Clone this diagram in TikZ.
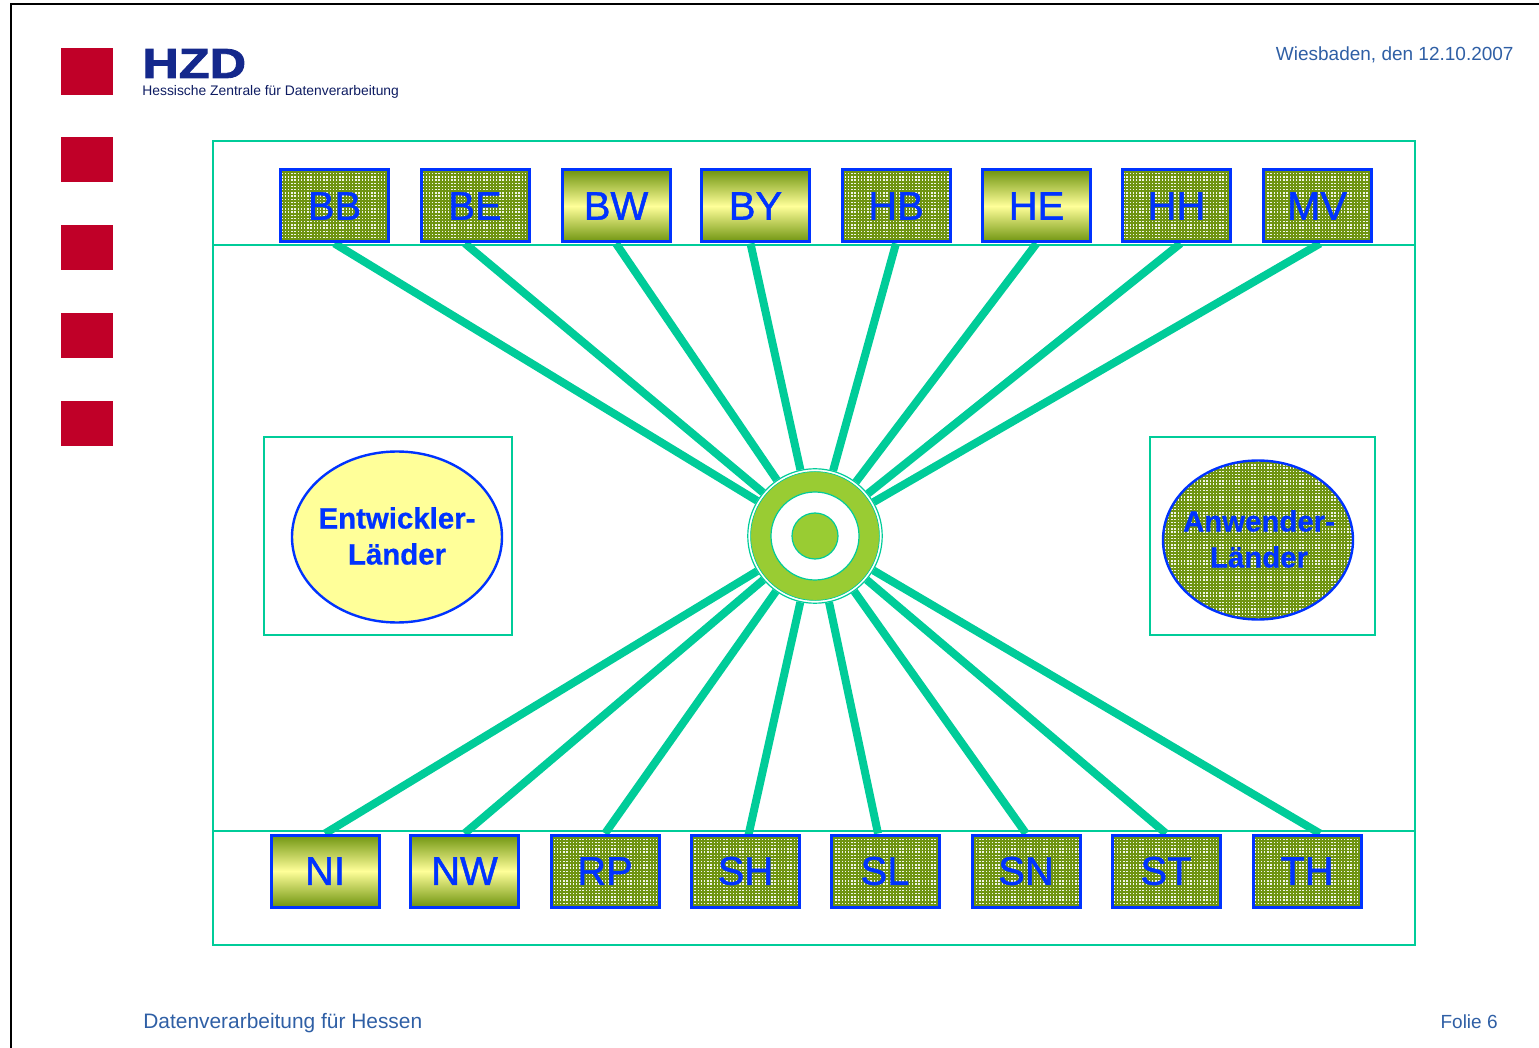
\documentclass[tikz,border=0pt]{standalone}
\usepackage{fontspec}
\setmainfont{Liberation Sans}
\newfontfamily\heavyfont[FakeBold=2]{Liberation Sans Bold}
\newfontfamily\midfont[FakeBold=0.6]{Liberation Sans Bold}
\newfontfamily\boxfont[FakeBold=1.2]{Liberation Sans}
\usetikzlibrary{patterns,backgrounds,shapes.geometric}
\definecolor{teal1}{HTML}{00CC99}
\definecolor{blue1}{HTML}{0033FF}
\definecolor{red1}{HTML}{C00028}
\definecolor{olive1}{HTML}{6F9410}
\definecolor{lime1}{HTML}{99CC33}
\definecolor{yellow1}{HTML}{FFFF99}
\definecolor{navy1}{HTML}{14288C}
\definecolor{text1}{HTML}{2F5FA5}
\pgfdeclarepatternformonly{finedots}{\pgfqpoint{-0.2pt}{-0.2pt}}{\pgfqpoint{1.8pt}{1.8pt}}{\pgfqpoint{1.6pt}{1.6pt}}{%
  \pgfpathrectangle{\pgfqpoint{0pt}{0pt}}{\pgfqpoint{0.7pt}{0.7pt}}\pgfusepath{fill}}
\tikzset{
  x=0.5pt,y=-0.5pt,
  frameline/.style={draw=teal1,line width=1pt},
  redsq/.style={fill=red1,draw=none,minimum width=26pt,inner sep=0pt},
  landbox/.style={draw=blue1,line width=1.5pt,minimum width=54pt,minimum height=36pt,inner sep=0pt,
    text=blue1,font=\boxfont\fontsize{20}{24}\selectfont},
  dotted box/.style={landbox,preaction={fill=olive1},pattern=finedots,pattern color=white!90!olive1},
  shaded box/.style={landbox,top color=olive1,bottom color=olive1,middle color=yellow1},
  spoke/.style={draw=teal1,line width=4pt},
  ringshape/.style={circle,inner sep=0pt,draw=teal1,line width=0.6pt},
  ellipsebase/.style={ellipse,inner sep=0pt,draw=blue1,line width=1.2pt},
  ellipselabel/.style={text=blue1,align=center,inner sep=0pt,font=\midfont\fontsize{14.7}{18}\selectfont},
  footer/.style={text=text1,font=\fontsize{10.45}{12}\selectfont,inner sep=0pt},
  corner/.style={text=text1,font=\fontsize{9.5}{11}\selectfont,inner sep=0pt},
}
\begin{document}
\begin{tikzpicture}
\useasboundingbox (0,0) rectangle (1539,1048);
\draw[black,line width=1pt] (11,1048) -- (11,4) -- (1539,4);
% red squares
\node[redsq,minimum height=23.5pt] (r1) at (87,71.5) {};
\node[redsq,minimum height=22.5pt] (r2) at (87,159.5) {};
\node[redsq,minimum height=22.5pt] (r3) at (87,247.5) {};
\node[redsq,minimum height=22.5pt] (r4) at (87,335.5) {};
\node[redsq,minimum height=22.5pt] (r5) at (87,423.5) {};
% logo
\node[anchor=west,inner sep=0pt,text=navy1,xscale=1.2,font=\heavyfont\fontsize{21}{24}\selectfont] (hzd) at (142,63.5) {HZD};
\node[anchor=west,inner sep=0pt,text=navy1!70!black,font=\fontsize{6.93}{8}\selectfont] (hzdsub) at (142,92) {Hessische Zentrale für Datenverarbeitung};
\node[corner,anchor=east] (date) at (1514,55) {Wiesbaden, den 12.10.2007};
\node[footer,anchor=west] (foot) at (143,1023) {Datenverarbeitung für Hessen};
\node[corner,anchor=east] (folie) at (1498,1022) {Folie 6};
% frames
\draw[frameline] (213,141) rectangle (1415,945);
\draw[frameline] (213,245) -- (1415,245);
\draw[frameline] (213,831) -- (1415,831);
\node[frameline,minimum width=124pt,minimum height=99pt,inner sep=0pt] (lbox) at (388,536) {};
\node[frameline,minimum width=112.5pt,minimum height=99pt,inner sep=0pt] (rbox) at (1262.5,536) {};
% legend ellipses
\node[ellipsebase,fill=yellow1,minimum width=105pt,minimum height=85.5pt] (dev) at (397,537) {};
\node[ellipselabel] (devtext) at (397,536) {Entwickler-\\[0pt]Länder};
\node[ellipsebase,preaction={fill=olive1},pattern=finedots,pattern color=white!90!olive1,minimum width=95pt,minimum height=79.5pt] (usr) at (1258,540) {};
\node[ellipselabel] (usrtext) at (1259,539) {Anwender-\\[0pt]Länder};
% top row
\node[dotted box] (BB) at (334.5,206) {\raisebox{-0.6pt}{BB}};
\node[dotted box] (BE) at (475,206) {\raisebox{-0.6pt}{BE}};
\node[shaded box] (BW) at (616,206) {\raisebox{-0.6pt}{BW}};
\node[shaded box] (BY) at (755.5,206) {\raisebox{-0.6pt}{BY}};
\node[dotted box] (HB) at (896,206) {\raisebox{-0.6pt}{HB}};
\node[shaded box] (HE) at (1036.5,206) {\raisebox{-0.6pt}{HE}};
\node[dotted box] (HH) at (1176.5,206) {\raisebox{-0.6pt}{HH}};
\node[dotted box] (MV) at (1317,206) {\raisebox{-0.6pt}{MV}};
% bottom row
\node[shaded box] (NI) at (325,871) {\raisebox{-0.6pt}{NI}};
\node[shaded box] (NW) at (464.5,871) {\raisebox{-0.6pt}{NW}};
\node[dotted box] (RP) at (605,871) {\raisebox{-0.6pt}{RP}};
\node[dotted box] (SH) at (745.5,871) {\raisebox{-0.6pt}{SH}};
\node[dotted box] (SL) at (885,871) {\raisebox{-0.6pt}{SL}};
\node[dotted box] (SN) at (1026,871) {\raisebox{-0.6pt}{SN}};
\node[dotted box] (ST) at (1166,871) {\raisebox{-0.6pt}{ST}};
\node[dotted box] (TH) at (1307,871) {\raisebox{-0.6pt}{TH}};
% hub
\node[ringshape,fill=white,minimum size=67.2pt] (hub) at (815,536) {};
\node[ringshape,fill=lime1,minimum size=64.4pt,line width=0.35pt] (ring) at (815,536) {};
\node[ringshape,fill=white,minimum size=44pt] (hole) at (815,536) {};
\node[ringshape,fill=lime1,minimum size=23pt] (core) at (815,536) {};
% connectors
\begin{scope}[on background layer]
\draw[spoke] (BB.south) -- (hub);
\draw[spoke] ([xshift=-5pt]BE.south) -- (hub);
\draw[spoke] (BW.south) -- (hub);
\draw[spoke] ([xshift=-2.5pt]BY.south) -- (hub);
\draw[spoke] (HB.south) -- (hub);
\draw[spoke] (HE.south) -- (hub);
\draw[spoke] ([xshift=2pt]HH.south) -- (hub);
\draw[spoke] ([xshift=1.5pt]MV.south) -- (hub);
\draw[spoke] (NI.north) -- (hub);
\draw[spoke] (NW.north) -- (hub);
\draw[spoke] (RP.north) -- (hub);
\draw[spoke] ([xshift=1pt,yshift=-3pt]SH.north) -- (hub);
\draw[spoke] ([xshift=-3.5pt]SL.north) -- (hub);
\draw[spoke] (SN.north) -- (hub);
\draw[spoke] (ST.north) -- (hub);
\draw[spoke] ([xshift=6.5pt]TH.north) -- (hub);
\end{scope}
\end{tikzpicture}
\end{document}
